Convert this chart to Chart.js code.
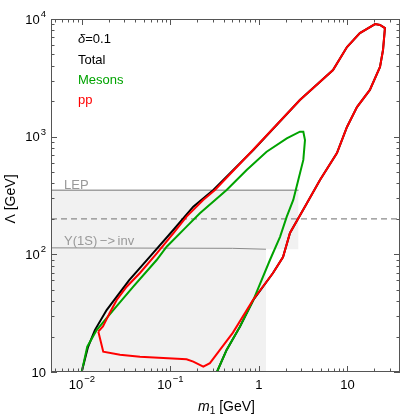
<!DOCTYPE html>
<html>
<head>
<meta charset="utf-8">
<script src="https://cdn.jsdelivr.net/npm/chart.js@4.4.1/dist/chart.umd.min.js"></script>
<style>
  html, body { margin: 0; padding: 0; background: #fff; }
  #wrap { width: 407px; height: 417px; }
</style>
</head>
<body>
<div id="wrap"><canvas id="chart"></canvas></div>
<script>
// axis ranges and tick labels
const xRange = [0.00447, 39.2];
const yRange = [10, 10000];
const xTicks = [0.01, 0.1, 1, 10];
const xTickBase = ['10', '10', '1', '10'];
const xTickExp = ['\u22122', '\u22121', '', ''];
const yTicks = [10, 100, 1000, 10000];
const yTickBase = ['10', '10', '10', '10'];
const yTickExp = ['', '2', '3', '4'];

// pp (red) contour, m1 [GeV] / Lambda [GeV]
const ppM = [0.0153, 0.01726, 0.0207, 0.0247, 0.0320, 0.0452, 0.0700, 0.1076, 0.152, 0.234, 0.318, 0.855, 2.90, 6.86, 9.87, 13.8, 20.5, 23.3, 26.5, 25.2, 23.3, 17.9, 12.8, 9.87, 7.6, 4.89, 3.49, 2.24, 1.87, 1.44, 0.855, 0.508, 0.362, 0.279, 0.235, 0.181, 0.152, 0.0452, 0.0269, 0.0174, 0.0153];
const ppL = [22.1, 24.4, 32.0, 40.9, 53.1, 69.4, 102, 151, 209, 290, 352, 771, 2049, 3686, 5780, 7600, 9060, 8890, 8380, 5450, 3910, 2494, 1786, 1208, 726, 428, 273, 152, 94.9, 69.4, 40.9, 21.6, 15.4, 11.9, 11.1, 12.25, 12.85, 13.5, 14.0, 14.9, 22.1];

// mesons (green) contour
const mesM = [0.00993, 0.01148, 0.01466, 0.0226, 0.0380, 0.0698, 0.0906, 0.152, 0.215, 0.431, 0.726, 1.22, 2.06, 2.90, 3.17, 3.31, 3.17, 2.78, 2.44, 2.06, 1.73, 1.33, 0.863, 0.610, 0.431, 0.335];
const mesL = [10, 16.4, 22.7, 33.6, 53.1, 89.5, 116, 172, 223, 352, 521, 745, 968, 1102, 1102, 937, 634, 428, 290, 209, 141, 89.5, 40.9, 24.3, 15.4, 10];

// total (black) contour
const totM = [0.00993, 0.0117, 0.0140, 0.0190, 0.0340, 0.0586, 0.1076, 0.181, 0.305, 0.863, 2.90, 6.86, 9.87, 13.8, 20.5, 23.3, 26.5, 25.2, 23.3, 17.9, 12.8, 9.87, 7.6, 4.89, 3.49, 2.24, 1.87, 1.44, 0.863, 0.610, 0.431, 0.335];
const totL = [10, 16.3, 22.7, 33.6, 60.0, 95.5, 161, 254, 352, 771, 2049, 3686, 5780, 7600, 9060, 8890, 8380, 5450, 3910, 2494, 1786, 1208, 726, 428, 273, 152, 94.9, 69.4, 40.9, 24.3, 15.4, 10];

// bounds
const lepM = [xRange[0], 2.8];
const lepL = [351, 351];
const dashL = 200;
const upsM = [xRange[0], 0.5, 1.2];
const upsL = [113.5, 112.5, 110.5];

const pts = (xs, ys) => xs.map((x, i) => ({ x, y: ys[i] }));

const FONT = "'Liberation Sans', Arial, sans-serif";

const framePlugin = {
  id: 'frame',
  afterDatasetsDraw(chart) {
    const { ctx, chartArea: a, scales: { x, y } } = chart;
    ctx.save();
    ctx.strokeStyle = '#555';
    ctx.lineWidth = 1;
    ctx.strokeRect(a.left + 0.5, a.top + 0.5, a.right - a.left - 1, a.bottom - a.top - 1);

    // inward ticks on all four sides
    ctx.beginPath();
    for (let d = -3; d <= 2; d++) {
      for (let k = 1; k <= 9; k++) {
        const v = k * Math.pow(10, d);
        if (v < xRange[0] || v > xRange[1]) continue;
        const px = Math.round(x.getPixelForValue(v)) + 0.5;
        const len = k === 1 ? 6 : 3.5;
        ctx.moveTo(px, a.bottom); ctx.lineTo(px, a.bottom - len);
        ctx.moveTo(px, a.top); ctx.lineTo(px, a.top + len);
      }
    }
    for (let d = 1; d <= 4; d++) {
      for (let k = 1; k <= 9; k++) {
        const v = k * Math.pow(10, d);
        if (v < yRange[0] || v > yRange[1]) continue;
        const py = Math.round(y.getPixelForValue(v)) + 0.5;
        const len = k === 1 ? 6 : 3.5;
        ctx.moveTo(a.left, py); ctx.lineTo(a.left + len, py);
        ctx.moveTo(a.right, py); ctx.lineTo(a.right - len, py);
      }
    }
    ctx.stroke();

    // tick labels with superscripts
    ctx.fillStyle = '#000';
    ctx.textBaseline = 'alphabetic';
    const base = '13px ' + FONT, sup = '9.5px ' + FONT;
    xTicks.forEach((v, i) => {
      ctx.font = base; const w1 = ctx.measureText(xTickBase[i]).width;
      ctx.font = sup; const w2 = xTickExp[i] ? ctx.measureText(xTickExp[i]).width + 1 : 0;
      const px = x.getPixelForValue(v) - (w1 + w2) / 2;
      ctx.font = base; ctx.textAlign = 'left'; ctx.fillText(xTickBase[i], px, 389);
      if (w2) { ctx.font = sup; ctx.fillText(xTickExp[i], px + w1 + 1, 382); }
    });
    yTicks.forEach((v, i) => {
      const py = y.getPixelForValue(v);
      ctx.font = sup; const w2 = yTickExp[i] ? ctx.measureText(yTickExp[i]).width + 1 : 0;
      const right = 46;
      ctx.textAlign = 'right';
      if (w2) { ctx.font = sup; ctx.fillText(yTickExp[i], right, py - 2); }
      ctx.font = base; ctx.fillText(yTickBase[i], right - w2, py + 4.5);
    });

    // axis titles
    ctx.textAlign = 'left';
    ctx.font = 'italic 14px ' + FONT;
    const wm = ctx.measureText('m').width;
    ctx.font = '10px ' + FONT;
    const ws = ctx.measureText('1').width;
    ctx.font = '14px ' + FONT;
    const wr = ctx.measureText(' [GeV]').width;
    let sx = 226.5 - (wm + ws + wr) / 2;
    ctx.font = 'italic 14px ' + FONT; ctx.fillText('m', sx, 411);
    ctx.font = '10px ' + FONT; ctx.fillText('1', sx + wm, 414);
    ctx.font = '14px ' + FONT; ctx.fillText(' [GeV]', sx + wm + ws, 411);

    ctx.save();
    ctx.translate(15, 199);
    ctx.rotate(-Math.PI / 2);
    ctx.textAlign = 'center';
    ctx.font = '14px ' + FONT;
    ctx.fillText('\u039B [GeV]', 0, 0);
    ctx.restore();

    // in-plot labels
    ctx.textAlign = 'left';
    ctx.font = 'italic 13px ' + FONT;
    ctx.fillStyle = '#000';
    ctx.fillText('\u03B4', 78, 43);
    const wd = ctx.measureText('\u03B4').width;
    ctx.font = '13px ' + FONT;
    ctx.fillText('=0.1', 78 + wd, 43);
    ctx.fillText('Total', 78, 63.5);
    ctx.fillStyle = '#00a300';
    ctx.fillText('Mesons', 78, 83.5);
    ctx.fillStyle = '#ff0000';
    ctx.fillText('pp', 78, 104);
    ctx.fillStyle = '#999';
    ctx.fillText('LEP', 64, 189);
    ctx.fillText('\u03A5(1S)\u2009\u2212>\u2009inv', 64, 244.5);
    ctx.restore();
  }
};

new Chart(document.getElementById('chart'), {
  type: 'scatter',
  data: {
    datasets: [
      { label: 'pp', data: pts(ppM, ppL), borderColor: '#ff0000', borderWidth: 2, order: 0 },
      { label: 'Mesons', data: pts(mesM, mesL), borderColor: '#00a300', borderWidth: 2, order: 1 },
      { label: 'Total', data: pts(totM, totL), borderColor: '#000', borderWidth: 2, order: 2 },
      { label: 'LEP', data: pts(lepM, lepL), borderColor: '#a0a0a0', borderWidth: 1.5, order: 3 },
      { label: 'dash', data: pts(xRange, [dashL, dashL]), borderColor: '#8a8a8a', borderWidth: 1.2, borderDash: [6, 4], order: 3 },
      { label: 'ups', data: pts(upsM, upsL), borderColor: '#8a8a8a', borderWidth: 1, order: 3 },
      { label: 'shadeA', data: pts([xRange[0], upsM[2]], lepL), borderWidth: 0, backgroundColor: '#f1f1f1', fill: 'start', order: 5 },
      { label: 'shadeB', data: pts([upsM[2], lepM[1]], lepL), borderWidth: 0, backgroundColor: '#f1f1f1', fill: '+1', order: 5 },
      { label: 'shadeBlow', data: pts([upsM[2], lepM[1]], [upsL[2], upsL[2]]), borderWidth: 0, order: 5 },
    ].map(d => Object.assign({ showLine: true, pointRadius: 0, tension: 0, fill: false }, d)),
  },
  options: {
    responsive: true, maintainAspectRatio: false, animation: false,
    layout: { padding: { left: 51, top: 19, right: 7, bottom: 45 } },
    plugins: { legend: { display: false }, tooltip: { enabled: false } },
    scales: {
      x: { type: 'logarithmic', min: xRange[0], max: xRange[1], display: false },
      y: { type: 'logarithmic', min: yRange[0], max: yRange[1], display: false },
    },
  },
  plugins: [framePlugin],
});
</script>
</body>
</html>
